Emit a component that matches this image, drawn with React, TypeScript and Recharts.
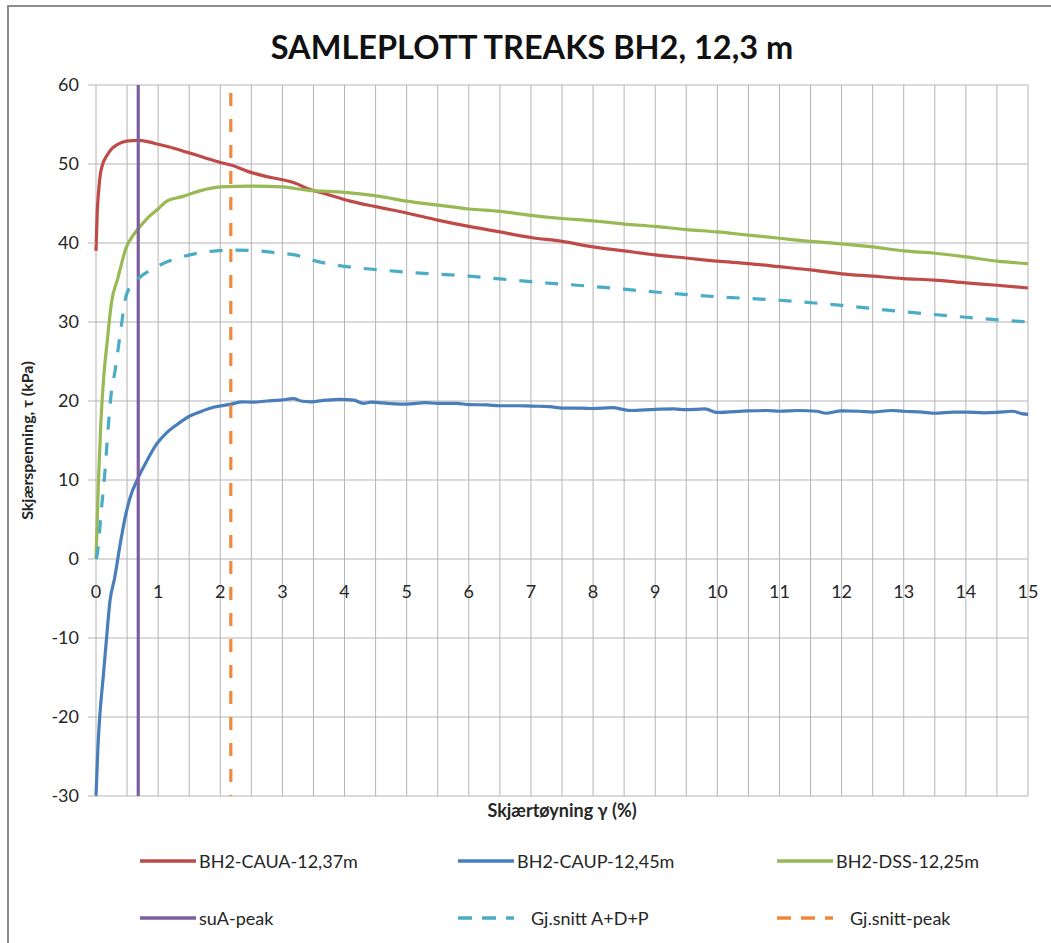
import React from 'react';
import { ComposedChart, Line, Scatter, XAxis, YAxis, CartesianGrid } from 'recharts';

const FONT = "Lato, 'Open Sans', sans-serif";

const titleText = 'SAMLEPLOTT TREAKS BH2, 12,3 m';
const xAxisTitle = 'Skjærtøyning γ (%)';
const yAxisTitle = 'Skjærspenning, τ (kPa)';

const gridXTicks = [0, 0.5, 1, 1.5, 2, 2.5, 3, 3.5, 4, 4.5, 5, 5.5, 6, 6.5, 7, 7.5, 8, 8.5, 9, 9.5, 10, 10.5, 11, 11.5, 12, 12.5, 13, 13.5, 14, 14.5, 15];
const xDomain = [0, 15];
const xTickLabels = [0, 1, 2, 3, 4, 5, 6, 7, 8, 9, 10, 11, 12, 13, 14, 15];
const yTicks = [-30, -20, -10, 0, 10, 20, 30, 40, 50, 60];

const cauaPts = [
  [0, 39.0], [0.02, 44], [0.04, 46.3], [0.07, 48.7], [0.1, 49.8], [0.17, 51.0], [0.25, 51.9], [0.33, 52.4],
  [0.49, 52.9], [0.68, 53.0], [0.85, 52.8], [1.0, 52.5], [1.25, 52.0], [1.46, 51.5], [1.75, 50.8], [2.0, 50.2],
  [2.2, 49.8], [2.43, 49.1], [2.7, 48.5], [3.0, 48.0], [3.2, 47.6], [3.4, 46.9], [3.7, 46.2], [4.09, 45.3],
  [4.5, 44.6], [5.0, 43.8], [5.5, 42.9], [6.0, 42.1], [6.5, 41.4], [7.0, 40.7], [7.5, 40.2], [8.0, 39.5],
  [8.5, 39.0], [9.0, 38.5], [9.5, 38.1], [10.0, 37.7], [10.5, 37.4], [11.0, 37.0], [11.5, 36.6], [12.0, 36.1],
  [12.5, 35.8], [13.0, 35.5], [13.5, 35.3], [14.0, 34.95], [14.5, 34.65], [15.0, 34.3],
];

const caupPts = [
  [0, -30], [0.03, -24], [0.06, -20], [0.12, -14.6], [0.17, -10], [0.225, -5.3], [0.3, -2.4], [0.39, 1.9],
  [0.47, 5.3], [0.55, 7.8], [0.68, 10.3], [0.82, 12.45], [0.98, 14.6], [1.14, 16.0], [1.3, 17.0], [1.51, 18.1],
  [1.7, 18.7], [1.89, 19.2], [2.18, 19.6], [2.35, 19.9], [2.53, 19.85], [2.75, 20.0], [2.96, 20.1], [3.18, 20.3],
  [3.3, 20.0], [3.45, 19.9], [3.7, 20.1], [3.93, 20.2], [4.15, 20.1], [4.3, 19.7], [4.43, 19.85], [4.7, 19.7],
  [5.0, 19.6], [5.3, 19.8], [5.5, 19.7], [5.8, 19.7], [6.0, 19.55], [6.3, 19.5], [6.5, 19.4], [6.8, 19.4],
  [7.0, 19.35], [7.3, 19.3], [7.5, 19.1], [7.8, 19.1], [8.0, 19.05], [8.3, 19.15], [8.6, 18.8], [9.0, 18.95],
  [9.3, 19.0], [9.5, 18.9], [9.8, 19.0], [10.0, 18.55], [10.5, 18.75], [10.8, 18.8], [11.0, 18.7], [11.3, 18.8],
  [11.6, 18.7], [11.75, 18.45], [12.0, 18.75], [12.3, 18.7], [12.5, 18.6], [12.8, 18.8], [13.0, 18.7], [13.3, 18.6],
  [13.5, 18.45], [13.8, 18.6], [14.0, 18.6], [14.3, 18.5], [14.5, 18.55], [14.75, 18.7], [14.9, 18.4], [15.0, 18.3],
];

const dssPts = [
  [0, 0], [0.02, 5], [0.04, 10], [0.08, 17.5], [0.12, 22.6], [0.18, 27.5], [0.25, 32.5], [0.35, 35.5],
  [0.49, 39.5], [0.6, 41.0], [0.68, 41.8], [0.85, 43.3], [1.0, 44.3], [1.14, 45.3], [1.4, 45.9], [1.67, 46.6],
  [2.0, 47.1], [2.5, 47.2], [3.0, 47.1], [3.2, 46.9], [3.4, 46.7], [4.0, 46.4], [4.57, 45.9], [5.0, 45.3],
  [5.5, 44.8], [6.0, 44.3], [6.5, 44.0], [7.0, 43.5], [7.5, 43.1], [8.0, 42.8], [8.5, 42.4], [9.0, 42.1],
  [9.5, 41.7], [10.0, 41.4], [10.5, 41.0], [11.0, 40.6], [11.5, 40.2], [12.0, 39.9], [12.5, 39.5], [13.0, 39.0],
  [13.5, 38.7], [14.0, 38.25], [14.5, 37.7], [15.0, 37.4],
];

const avgPts = [
  [0, 0], [0.01, 0.2], [0.09, 6.5], [0.145, 11.2], [0.2, 17], [0.25, 21.3], [0.3, 23.5], [0.39, 28.5],
  [0.47, 32.8], [0.57, 34.7], [0.68, 35.5], [0.98, 37.0], [1.51, 38.5], [2.2, 39.1], [2.6, 39.0], [2.96, 38.7],
  [3.2, 38.5], [3.5, 37.8], [4.04, 37.0], [4.57, 36.6], [5.0, 36.3], [6.0, 35.8], [7.0, 35.1], [8.0, 34.5],
  [9.0, 33.8], [10.0, 33.2], [11.0, 32.75], [12.0, 32.1], [13.0, 31.3], [14.0, 30.6], [15.0, 30.0],
];

const suaPeakPts = [[0.68, 60], [0.68, -30]];
const avgPeakPts = [[2.17, 59], [2.17, -30]];

const toData = (pts: number[][]) => pts.map(([x, y]) => ({ x, y }));

const COLORS = {
  caua: '#BE4B48',
  caup: '#4A7EBB',
  dss: '#98B954',
  sua: '#7D5FA0',
  avg: '#4BACC6',
  avgPeak: '#F0893C',
};

const series = [
  { name: 'BH2-CAUA-12,37m', data: toData(cauaPts), color: COLORS.caua, dash: undefined as string | undefined, type: 'monotone' },
  { name: 'BH2-CAUP-12,45m', data: toData(caupPts), color: COLORS.caup, dash: undefined, type: 'monotone' },
  { name: 'BH2-DSS-12,25m', data: toData(dssPts), color: COLORS.dss, dash: undefined, type: 'monotone' },
  { name: 'suA-peak', data: toData(suaPeakPts), color: COLORS.sua, dash: undefined, type: 'linear' },
  { name: 'Gj.snitt A+D+P', data: toData(avgPts), color: COLORS.avg, dash: '13 13', type: 'monotone' },
  { name: 'Gj.snitt-peak', data: toData(avgPeakPts), color: COLORS.avgPeak, dash: '13 13', type: 'linear' },
];

const xLabelData = xTickLabels.map((v) => ({ x: v, y: 0 }));

const GRID = '#b4b4b4';
const TEXT = '#262626';

const verticalGen = (args: any) => {
  const xAxis = args && args.xAxis;
  if (xAxis && typeof xAxis.scale === 'function') {
    return gridXTicks.map((v) => xAxis.scale(v));
  }
  const off = (args && args.offset) || { left: 0, width: 0 };
  return gridXTicks.map((v) => off.left + ((v - xDomain[0]) / (xDomain[1] - xDomain[0])) * off.width);
};

const XTickShape = (props: any) => {
  const { cx, cy, payload } = props;
  if (cx == null || cy == null) return <g />;
  return (
    <text x={cx} y={cy + 32} textAnchor="middle" dominantBaseline="central" fontFamily={FONT} fontSize={18} fill={TEXT}>
      {payload.x}
    </text>
  );
};

const YTitle = (props: any) => {
  const vb = props.viewBox || {};
  const cx = (vb.x || 0) + 26;
  const cy = (vb.y || 0) + (vb.height || 0) / 2;
  return (
    <text
      x={cx}
      y={cy}
      transform={`rotate(-90, ${cx}, ${cy})`}
      textAnchor="middle"
      dominantBaseline="central"
      fontFamily={FONT}
      fontWeight={700}
      fontSize={16}
      fill={TEXT}
    >
      {yAxisTitle}
    </text>
  );
};

const legendCols = [140, 458, 777];
const legendRows = [861, 918];

export default function App() {
  return (
    <div style={{ position: 'absolute', left: 0, top: 0, width: 1051, height: 943, background: '#fff', overflow: 'hidden' }}>
      <div style={{ position: 'absolute', left: 7, top: 5, width: 1060, height: 950, borderTop: '2px solid #8c8c8c', borderLeft: '2px solid #8c8c8c' }} />
      <div
        style={{
          position: 'absolute', left: 0, top: 27, width: 1064, textAlign: 'center',
          fontFamily: FONT, fontWeight: 700, fontSize: 32.5, color: '#111', lineHeight: '40px',
        }}
      >
        {titleText}
      </div>
      <div style={{ position: 'absolute', left: 0, top: 0 }}>
        <ComposedChart width={1051} height={943} margin={{ top: 85, right: 23, bottom: 120, left: 0 }}>
          <CartesianGrid stroke={GRID} strokeWidth={1} verticalCoordinatesGenerator={verticalGen} />
          <XAxis
            type="number"
            dataKey="x"
            domain={xDomain}
            ticks={gridXTicks}
            interval={0}
            tick={false}
            tickLine={false}
            axisLine={false}
            height={27}
            label={{ value: xAxisTitle, position: 'insideTop', offset: 8, fontFamily: FONT, fontWeight: 700, fontSize: 18, fill: TEXT }}
          />
          <YAxis
            type="number"
            domain={[-30, 60]}
            ticks={yTicks}
            interval={0}
            width={96}
            tickSize={8}
            tickMargin={9}
            tickLine={{ stroke: GRID }}
            axisLine={false}
            tick={{ fontFamily: FONT, fontSize: 18, fill: TEXT }}
            label={<YTitle />}
          />
          {series.map((s) => (
            <Line
              key={s.name}
              data={s.data}
              dataKey="y"
              name={s.name}
              type={s.type as any}
              stroke={s.color}
              strokeWidth={3.2}
              strokeDasharray={s.dash}
              strokeLinecap="butt"
              dot={false}
              activeDot={false}
              isAnimationActive={false}
            />
          ))}
          <Scatter data={xLabelData} dataKey="y" shape={<XTickShape />} isAnimationActive={false} />
        </ComposedChart>
      </div>
      {series.map((s, i) => {
        const col = legendCols[i % 3];
        const row = legendRows[Math.floor(i / 3)];
        return (
          <div key={s.name} style={{ position: 'absolute', left: col, top: row - 12, height: 24, display: 'flex', alignItems: 'center' }}>
            <svg width={56} height={8} style={{ display: 'block' }}>
              <line x1={0} y1={4} x2={56} y2={4} stroke={s.color} strokeWidth={3.5} strokeDasharray={s.dash ? '14 10' : undefined} />
            </svg>
            <span style={{ marginLeft: s.dash ? 17 : 3, fontFamily: FONT, fontSize: 18, color: TEXT, whiteSpace: 'nowrap' }}>{s.name}</span>
          </div>
        );
      })}
    </div>
  );
}
